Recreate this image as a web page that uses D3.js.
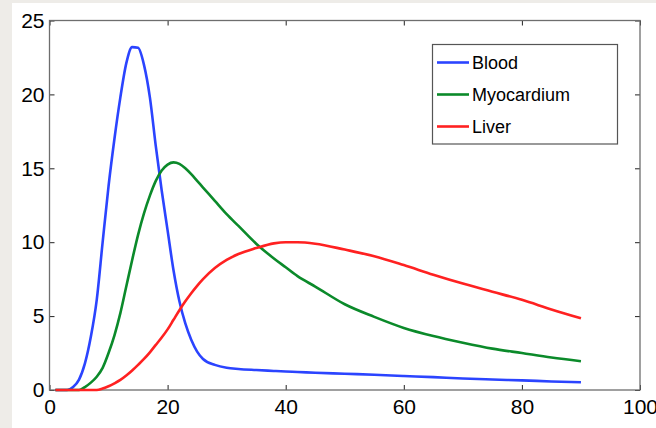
<!DOCTYPE html>
<html>
<head>
	<meta charset="utf-8">
	<title>Blood / Myocardium / Liver</title>
	<script src="https://cdn.jsdelivr.net/npm/d3@7"></script>
	<style>
		body {
			margin: 0;
			background: #eeece8;
		}
		svg text {
			font-family: "Liberation Sans", Arial, Helvetica, sans-serif;
		}
	</style>
</head>

<body>

	<div id="chart"></div>

	<script>

		// data

		const xValues = [1, 3, 4, 5, 6, 7, 8, 9, 10, 11, 12, 13, 14, 15, 16, 17, 18, 19, 20, 21, 22, 23, 24, 25, 26, 28, 30, 32, 35, 38, 40, 42, 45, 50, 55, 60, 65, 70, 75, 80, 85, 90];

		const blood = [0, 0, 0.2, 0.7, 1.8, 3.6, 6.1, 10.0, 13.8, 17.0, 19.8, 22.1, 23.2, 23.15, 22.0, 19.8, 16.5, 13.5, 10.8, 8.1, 6.0, 4.5, 3.4, 2.6, 2.1, 1.7, 1.5, 1.42, 1.35, 1.29, 1.25, 1.22, 1.17, 1.1, 1.03, 0.95, 0.87, 0.78, 0.71, 0.65, 0.58, 0.52];

		const myocardium = [0, 0, 0, 0, 0.2, 0.5, 0.9, 1.5, 2.5, 3.7, 5.2, 7.0, 8.8, 10.5, 11.95, 13.15, 14.15, 14.85, 15.25, 15.4, 15.3, 15.0, 14.6, 14.15, 13.7, 12.8, 11.9, 11.1, 9.9, 8.9, 8.3, 7.7, 7.0, 5.8, 4.95, 4.2, 3.65, 3.2, 2.8, 2.5, 2.2, 1.95];

		const liver = [0, 0, 0, 0, 0, 0, 0, 0.1, 0.25, 0.45, 0.68, 0.98, 1.32, 1.7, 2.1, 2.55, 3.05, 3.55, 4.1, 4.75, 5.4, 6.0, 6.55, 7.05, 7.5, 8.25, 8.8, 9.2, 9.6, 9.92, 10.0, 10.0, 9.9, 9.5, 9.05, 8.45, 7.8, 7.2, 6.65, 6.1, 5.45, 4.85];

		const seriesNames  = ["Blood", "Myocardium", "Liver"];
		const seriesValues = [blood, myocardium, liver];
		const seriesColors = ["#2b44ff", "#0b8a2a", "#ff2121"];

		const xTicks = [0, 20, 40, 60, 80, 100];
		const yTicks = [0, 5, 10, 15, 20, 25];

		// layout

		const width  = 656;
		const height = 428;
		const marginLeft = 49.5, marginRight = 16, marginTop = 20.5, marginBottom = 38;
		const fontSize = "21px";

		const svg = d3.select("#chart")
			.append("svg")
			.attr("width", width)
			.attr("height", height)
			.attr("viewBox", [0, 0, width, height])
			.style("display", "block");

		// page background and white figure area
		svg.append("rect")
			.attr("width", width).attr("height", height)
			.attr("fill", "#eeece8");
		svg.append("rect")
			.attr("x", 12).attr("y", 3)
			.attr("width", width - 12).attr("height", height - 3)
			.attr("fill", "#ffffff");

		const x = d3.scaleLinear([0, 100], [marginLeft, width - marginRight]);
		const y = d3.scaleLinear([0, 25], [height - marginBottom, marginTop]);

		const styleAxis = g => {
			g.select(".domain").remove();
			g.selectAll(".tick line").attr("stroke", "#222");
			g.selectAll(".tick text")
				.attr("fill", "#000")
				.style("font-size", fontSize)
				.style("font-family", "'Liberation Sans', Arial, Helvetica, sans-serif");
		};

		// bottom + left with labels, ticks pointing inwards
		svg.append("g")
			.attr("transform", `translate(0,${y(0)})`)
			.call(d3.axisBottom(x).tickValues(xTicks).tickSize(-5).tickPadding(9))
			.call(styleAxis);

		svg.append("g")
			.attr("transform", `translate(${x(0)},0)`)
			.call(d3.axisLeft(y).tickValues(yTicks).tickSize(-5).tickPadding(5))
			.call(styleAxis);

		// top + right ticks only (box)
		svg.append("g")
			.attr("transform", `translate(0,${y(25)})`)
			.call(d3.axisTop(x).tickValues(xTicks).tickSize(-5).tickFormat(""))
			.call(styleAxis);

		svg.append("g")
			.attr("transform", `translate(${x(100)},0)`)
			.call(d3.axisRight(y).tickValues(yTicks).tickSize(-5).tickFormat(""))
			.call(styleAxis);

		svg.append("rect")
			.attr("x", x(0)).attr("y", y(25))
			.attr("width", x(100) - x(0)).attr("height", y(0) - y(25))
			.attr("fill", "none")
			.attr("stroke", "#6e6e6e")
			.attr("stroke-width", 1.3);

		// curves
		const line = d3.line()
			.curve(d3.curveMonotoneX)
			.x((d, i) => x(xValues[i]))
			.y(d => y(d));

		seriesValues.forEach((vals, k) => {
			svg.append("path")
				.attr("fill", "none")
				.attr("stroke", seriesColors[k])
				.attr("stroke-width", 2.6)
				.attr("stroke-linejoin", "round")
				.attr("d", line(vals));
		});

		// legend
		const legend = svg.append("g");
		legend.append("rect")
			.attr("x", 432.5).attr("y", 44.5)
			.attr("width", 185).attr("height", 99.5)
			.attr("fill", "#fff")
			.attr("stroke", "#555")
			.attr("stroke-width", 1.2);

		seriesNames.forEach((name, k) => {
			const ly = 62.5 + k * 32;
			legend.append("line")
				.attr("x1", 437).attr("x2", 469)
				.attr("y1", ly).attr("y2", ly)
				.attr("stroke", seriesColors[k])
				.attr("stroke-width", 2.6);
			legend.append("text")
				.attr("x", 472).attr("y", ly)
				.attr("dy", "0.36em")
				.style("font-size", "18px")
				.attr("fill", "#000")
				.text(name);
		});

	</script>

</body>

</html>
